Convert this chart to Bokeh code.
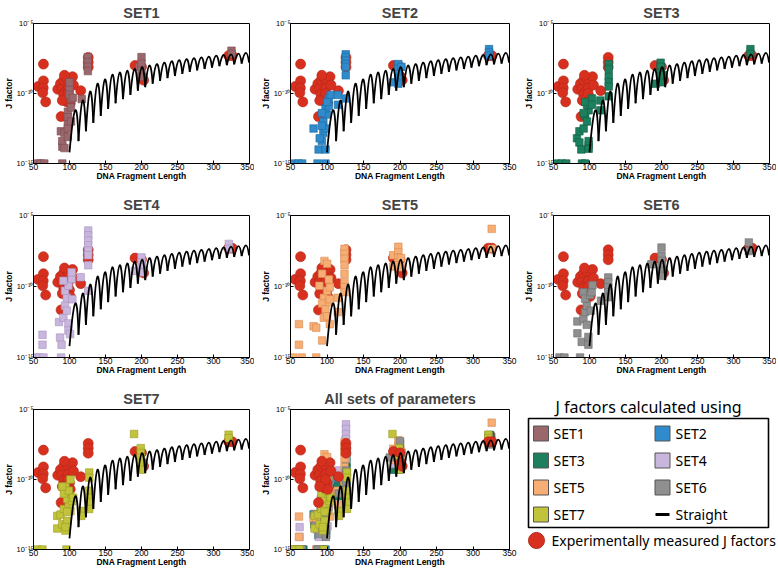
import numpy as np
from bokeh.plotting import figure
from bokeh.layouts import column, row
from bokeh.models import Range1d, FixedTicker, CustomJSTickFormatter
from bokeh.core.properties import value
from bokeh.embed import file_html
from bokeh.resources import INLINE

# ---------------- data (log10 of J factor) ----------------
X_TICKS = [50, 100, 150, 200, 250, 300, 350]
Y_TICKS = [1e-15, 1e-10, 1e-5]
Y_TICK_LABELS = ["10\u207b\u00b9\u2075", "10\u207b\u00b9\u2070", "10\u207b\u2075"]

# experimentally measured J factors (red circles)
exp_x = [56.4, 63.8, 63.8, 63.5, 62.8, 66.9, 83.7, 87.4, 89.7, 91.9, 94.0, 96.5,
         98.7, 104.2, 105.5, 91.9, 100.0, 96.5, 101.0, 88.3, 93.0, 98.0, 90.0,
         115.6, 126.0, 126.0, 126.0, 191.0, 200.0, 201.0, 203.0, 321.0, 326.0]
exp_log = [-9.5, -7.9, -9.1, -9.6, -9.95, -10.6, -9.7, -9.3, -9.65, -9.05, -9.9, -8.95,
           -9.6, -8.8, -9.4, -10.1, -10.25, -10.6, -10.7, -11.65, -8.7, -10.0, -10.5,
           -9.8, -7.42, -7.77, -8.12, -8.0, -8.1, -8.8, -9.05, -7.3, -7.3]

# straight DNA curve: troughs and the peaks between them
trough_x = [100.0, 112.5, 122.8, 133.1, 143.4, 153.7, 164.0, 174.3, 184.6, 194.9,
            205.2, 215.5, 225.8, 236.1, 246.4, 256.7, 267.0, 277.3, 287.6, 297.9,
            308.2, 318.5, 328.8, 339.1, 349.4]
trough_log = [-14.2, -13.4, -12.7, -12.1, -11.6, -11.1, -10.7, -10.4, -10.1, -9.8,
              -9.55, -9.3, -9.1, -8.9, -8.75, -8.6, -8.45, -8.35, -8.25, -8.15,
              -8.05, -7.98, -7.92, -7.86, -7.8]
peak_x = [108.0, 118.3, 128.6, 138.9, 149.2, 159.5, 169.8, 180.1, 190.4, 200.7,
          211.0, 221.3, 231.6, 241.9, 252.2, 262.5, 272.8, 283.1, 293.4, 303.7,
          314.0, 324.3, 334.6, 344.9]
peak_log = [-11.2, -10.5, -9.86, -9.3, -9.0, -8.65, -8.5, -8.38, -8.25, -8.12,
            -8.0, -7.9, -7.8, -7.7, -7.62, -7.55, -7.48, -7.42, -7.36, -7.3,
            -7.25, -7.2, -7.15, -7.1]

set_names = ["SET1", "SET2", "SET3", "SET4", "SET5", "SET6", "SET7"]
set_colors = ["#9a676c", "#2f8bcb", "#1c7f5e", "#c9b6dd", "#f6ae74", "#8f8f8f", "#c1c33b"]
set_edges = ["#7a4d52", "#1f6a9e", "#125e44", "#a892bf", "#d98c52", "#6d6d6d", "#9a9c22"]

set1_x = [55, 60, 65, 90, 88, 90, 90, 93, 93, 97.7, 97.7, 97.7, 97.7, 97.7, 102, 102, 102,
          100, 100, 100, 104.6, 117, 125.5, 125.5, 125.5, 125.5, 197, 200, 200, 200, 200, 325, 325]
set1_log = [-15, -15, -15, -15, -12.7, -13.8, -13.4, -12.8, -13.9, -11.3, -11.7, -12.2, -12.5, -13.1, -10.4, -11.0, -12.0,
            -9.7, -9.2, -10.1, -10.3, -10.4, -7.4, -7.76, -8.1, -8.4, -8.1, -7.4, -7.87, -8.34, -8.8, -6.94, -7.17]

set2_x = [54, 61, 66, 87, 98, 81.6, 88.5, 93, 95, 98, 95, 100, 98, 93, 102.5, 102.5, 100, 98, 93, 90,
          105, 115, 115, 125.7, 125.7, 125.7, 125.7, 125.7, 125.7, 125.7, 191, 197.7, 197.7, 197.7,
          197.7, 197.7, 202, 322, 322, 322]
set2_log = [-15, -15, -15, -15, -15, -12.5, -14.0, -13.4, -12.8, -12.5, -12.0, -11.5, -11.05, -11.4, -10.9, -10.35, -10.6, -14.0, -12.3, -13.2,
            -10.1, -10.1, -10.8, -7.2, -7.4, -7.65, -7.9, -8.1, -8.7, -10.35, -9.2, -7.9, -8.25, -8.6,
            -8.95, -9.3, -8.1, -6.83, -7.07, -7.3]

set3_x = [54.7, 61.6, 67.7, 89.5, 94, 82.6, 86, 86, 88.6, 91.9, 94, 96.5, 98.8, 96.5, 91.9, 98.8, 98.8, 98.8, 94,
          103.5, 103.5, 115, 115, 126.7, 126.7, 126.7, 126.7, 126.7, 126.7, 191.9, 198.8, 198.8, 198.8,
          198.8, 198.8, 202.6, 323.5, 323.5]
set3_log = [-15, -15, -15, -15, -15, -13.2, -12.7, -13.5, -14.0, -12.5, -11.6, -12.0, -11.2, -10.8, -11.4, -13.7, -13.95, -13.4, -10.6,
            -10.35, -10.8, -10.5, -11.2, -7.9, -8.25, -8.8, -9.2, -9.5, -10.2, -9.3, -7.8, -8.1, -8.5,
            -8.8, -9.2, -8.7, -6.83, -7.18]

set4_x = [52.3, 57.8, 63.8, 88.3, 62.5, 62.5, 85.5, 86.9, 89, 91.5, 93.8, 96.2, 98.5, 98.5, 100.8, 96.2, 93.8,
          98.5, 103, 103, 91.5, 104, 115.5, 126, 126, 126, 126, 126, 126, 126, 126, 190.7, 200, 200, 200,
          200, 321.3, 321.3]
set4_log = [-15, -15, -15, -15, -13.4, -14.1, -12.5, -13.6, -14.1, -12.2, -11.35, -11.7, -12.6, -13.1, -13.35, -10.8, -10.3,
            -9.95, -9.47, -9.0, -9.6, -10.9, -9.35, -6.06, -6.4, -6.76, -7.1, -7.47, -7.8, -8.5, -10.3, -8.9, -7.95, -8.3, -8.65,
            -9.0, -7.0, -7.35]

set5_x = [53.7, 65.3, 85.3, 61.6, 61.6, 81.6, 85.3, 93.3, 95.6, 93.3, 97.9, 95.6, 100.2, 102.5, 100.2, 103.9,
          89.5, 96.5, 100.2, 93.3, 103.9, 103.9, 102.5, 114.7, 114.7, 124, 124, 124, 124, 124, 124, 124, 124,
          190.7, 190.7, 197.7, 197.7, 197.7, 197.7, 197.7, 201.4, 201.4, 325.6, 325.6]
set5_log = [-15, -15, -15, -12.65, -14.1, -12.8, -12.9, -13.8, -10.8, -11.2, -11.6, -12.2, -12.1, -11.1, -10.3, -10.05,
            -9.95, -8.2, -8.4, -9.1, -10.9, -12.65, -9.5, -10.8, -11.8, -7.35, -7.7, -8.05, -8.5, -9.1, -9.7, -10.05, -10.4,
            -7.8, -8.6, -7.2, -7.6, -7.95, -8.3, -8.5, -8.0, -8.65, -5.94, -7.35]

set6_x = [58.3, 65.2, 86.9, 83.2, 83.2, 89.2, 91.5, 93.8, 96.2, 98.5, 98.5, 96.2, 91.5, 93.8, 100.8, 101.8,
          103, 104.2, 116, 126, 126, 126, 126, 126, 186, 200, 200, 200, 200, 200, 200, 321.3, 321.3]
set6_log = [-15, -15, -15, -12.46, -13.3, -13.9, -12.3, -11.8, -12.7, -13.55, -14.1, -11.35, -10.4, -10.85, -10.6, -11.7,
            -10.4, -9.9, -11.0, -9.36, -9.7, -10.06, -10.4, -10.75, -8.43, -7.26, -7.84, -8.2, -8.55, -8.9, -9.25, -6.9, -7.5]

set7_x = [55.5, 62.4, 95.8, 83, 83, 87.6, 92.2, 89.9, 94.4, 96.7, 99, 101.3, 96.7, 101.3, 94.4, 94.4, 92.2,
          99, 101.3, 103.5, 96.7, 89.7, 105, 116.4, 116.4, 127.4, 127.4, 127.4, 127.4, 127.4, 127.4,
          189.7, 198.9, 198.9, 198.9, 198.9, 198.9, 321, 321]
set7_log = [-15, -15, -15, -12.6, -13.5, -12.5, -12.1, -13.2, -13.65, -12.95, -11.9, -11.2, -11.4, -12.25, -13.4, -10.5, -11.0,
            -10.8, -10.0, -11.55, -12.3, -10.5, -11.3, -12.25, -12.6, -9.5, -9.87, -10.8, -11.3, -11.65, -12.1,
            -6.75, -7.76, -8.1, -8.45, -8.8, -9.3, -6.8, -7.05]

set_x = [set1_x, set2_x, set3_x, set4_x, set5_x, set6_x, set7_x]
set_log = [set1_log, set2_log, set3_log, set4_log, set5_log, set6_log, set7_log]
for a, b in zip(set_x, set_log):
    assert len(a) == len(b)

legend_title = "J factors calculated using"
straight_label = "Straight"
exp_label = "Experimentally measured J factors"

# ---------------- styling ----------------
FONT = "Liberation Sans"
RED_FILL = "#d8301f"
RED_EDGE = "#b3261a"

COL_L = [32, 36, 36]
COL_F = [217, 219, 216]
COL_R = [5, 8, 7]
ROW_T = [23, 28, 28]
ROW_H = [140, 142, 140]
ROW_B = [24, 24, 22]


def to_j(logs):
    return np.power(10.0, np.asarray(logs, dtype=float))


# quadratic segments trough -> peak -> trough (control point puts the apex on the peak)
t0x, t1x = np.array(trough_x[:-1]), np.array(trough_x[1:])
t0l, t1l = np.array(trough_log[:-1]), np.array(trough_log[1:])
px_, pl_ = np.array(peak_x), np.array(peak_log)
ctrl_x = 2 * px_ - 0.5 * (t0x + t1x)
ctrl_log = 2 * pl_ - 0.5 * (t0l + t1l)


def panel(title, col, rw, set_indices, circles_on_top):
    L, F, R = COL_L[col], COL_F[col], COL_R[col]
    T, H, B = ROW_T[rw], ROW_H[rw], ROW_B[rw]
    p = figure(width=L + F + R, height=T + H + B,
               x_range=Range1d(50, 350), y_range=Range1d(1e-15, 1e-5),
               y_axis_type="log", output_backend="svg", toolbar_location=None,
               title=title)
    p.min_border_left = L
    p.min_border_right = R
    p.min_border_top = T
    p.min_border_bottom = B
    p.background_fill_color = "white"
    p.border_fill_color = "white"
    p.outline_line_color = "black"
    p.outline_line_width = 1
    p.grid.visible = False

    p.title.text_font = FONT
    p.title.text_font_style = "bold"
    p.title.text_font_size = "14.5px"
    p.title.align = "center"
    p.title.standoff = 5
    p.title.offset = 0

    xa = p.xaxis[0]
    xa.ticker = FixedTicker(ticks=X_TICKS)
    xa.axis_label = "DNA Fragment Length"
    ya = p.yaxis[0]
    ya.ticker = FixedTicker(ticks=Y_TICKS)
    ya.formatter = CustomJSTickFormatter(
        args=dict(tvals=Y_TICKS, tlabels=Y_TICK_LABELS),
        code="""
        const lt = Math.log10(tick);
        for (let i = 0; i < tvals.length; i++) {
            if (Math.abs(Math.log10(tvals[i]) - lt) < 0.01) return tlabels[i];
        }
        return '';
        """)
    ya.axis_label = "J factor"
    for ax in (xa, ya):
        ax.major_tick_in = 3
        ax.major_tick_out = 0
        ax.minor_tick_line_color = None
        ax.axis_line_color = "black"
        ax.major_label_text_font = FONT
        ax.major_label_text_color = "black"
        ax.axis_label_text_font = FONT
        ax.axis_label_text_font_style = "bold"
        ax.axis_label_text_font_size = "8.5px"
        ax.axis_label_text_color = "black"
        ax.axis_label_standoff = 0
        ax.major_label_standoff = 1
    xa.major_label_text_font_size = "8.5px"
    xa.major_label_standoff = 0
    xa.axis_label_standoff = -2
    ya.major_label_text_font_size = "7.5px"
    ya.major_label_standoff = 0

    def draw_circles():
        p.scatter(exp_x, to_j(exp_log), marker="circle", size=10,
                  fill_color=RED_FILL, line_color=RED_EDGE, line_width=0.6)

    def draw_squares():
        for i in set_indices:
            p.scatter(set_x[i], to_j(set_log[i]), marker="square", size=7.5,
                      fill_color=set_colors[i], line_color=set_edges[i], line_width=0.6)

    if circles_on_top:
        draw_squares()
        draw_circles()
    else:
        draw_circles()
        draw_squares()
    p.quadratic(x0=t0x, y0=to_j(t0l), x1=t1x, y1=to_j(t1l), cx=ctrl_x, cy=to_j(ctrl_log),
                line_color="black", line_width=1.8)
    return p


def legend_panel():
    W = COL_L[2] + COL_F[2] + COL_R[2]
    H = ROW_T[2] + ROW_H[2] + ROW_B[2]
    x0 = sum(COL_L[c] + COL_F[c] + COL_R[c] for c in range(2))
    y0 = sum(ROW_T[r] + ROW_H[r] + ROW_B[r] for r in range(2))
    p = figure(width=W, height=H, x_range=Range1d(x0, x0 + W), y_range=Range1d(y0 + H, y0),
               output_backend="svg", toolbar_location=None,
               x_axis_location=None, y_axis_location=None)
    p.frame_align = False
    p.min_border = 0
    p.min_border_left = p.min_border_right = p.min_border_top = p.min_border_bottom = 0
    p.outline_line_color = None
    p.grid.visible = False
    p.background_fill_color = "white"
    p.border_fill_color = "white"

    lf = value("Noto Sans")
    p.text([648], [406], text=[legend_title], text_align="center", text_baseline="middle",
           text_font=lf, text_font_size="16px", text_color="black")
    p.rect([648], [472.5], width=240, height=109, fill_color=None,
           line_color="black", line_width=1.6)
    col_sw = [540.5, 662.0]
    col_tx = [553.0, 675.0]
    rows_y = [433, 460, 487, 514]
    sx, sy, sc, tx, ty, tt = [], [], [], [], [], []
    for i, name in enumerate(set_names):
        c, r = i % 2, i // 2
        sx.append(col_sw[c]); sy.append(rows_y[r])
        sc.append(set_colors[i])
        tx.append(col_tx[c]); ty.append(rows_y[r]); tt.append(name)
    p.rect(sx, sy, width=15, height=15, fill_color=sc, line_color="#555555", line_width=1)
    p.line([655, 669], [rows_y[3], rows_y[3]], line_color="black", line_width=3)
    tx.append(col_tx[1]); ty.append(rows_y[3]); tt.append(straight_label)
    p.text(tx, ty, text=tt, text_baseline="middle", text_font=lf, text_font_size="14px",
           text_color="black")
    p.scatter([536], [540], marker="circle", size=16, fill_color=RED_FILL, line_color=RED_EDGE,
              line_width=1)
    p.text([551], [540], text=[exp_label], text_baseline="middle", text_font=lf,
           text_font_size="14px", text_color="black")
    return p


panels = []
for i in range(6):
    panels.append(panel(set_names[i], i % 3, i // 3, [i], False))
panels.append(panel(set_names[6], 0, 2, [6], False))
panels.append(panel("All sets of parameters", 1, 2, list(range(7)), True))
panels.append(legend_panel())

layout = column(row(*panels[0:3]), row(*panels[3:6]), row(*panels[6:9]))
open("out.html", "w").write(file_html(layout, INLINE))
